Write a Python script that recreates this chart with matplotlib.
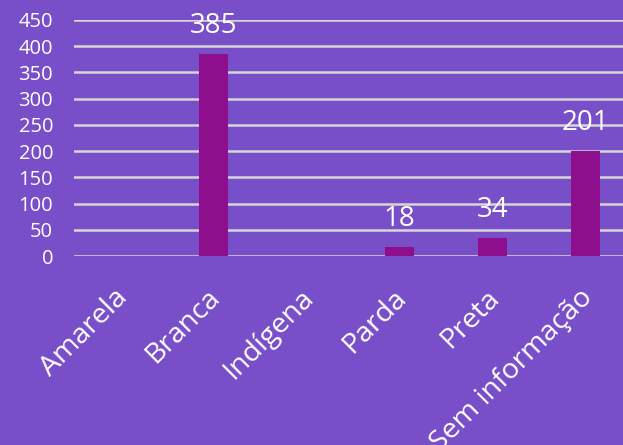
import numpy as np
import matplotlib
matplotlib.use('Agg')
import matplotlib.pyplot as plt
import matplotlib.transforms as mtransforms

# data
categories = ['Amarela', 'Branca', 'Indígena', 'Parda', 'Preta', 'Sem informação']
values = [0, 385, 0, 18, 34, 201]
labels = ['', '385', '', '18', '34', '201']
yticks = [0, 50, 100, 150, 200, 250, 300, 350, 400, 450]

bg = '#784fc8'
bar_color = '#8e0f8c'

plt.rcParams['font.family'] = ['Open Sans', 'DejaVu Sans']

fig = plt.figure(figsize=(6.23, 4.45), dpi=100, facecolor=bg)
ax = fig.add_axes([74/623, 189/445, 558/623, 236/445])
ax.set_facecolor(bg)

x = np.arange(len(categories))
bars = ax.bar(x, values, width=0.31, color=bar_color, zorder=3)

for xi, v, lab in zip(x, values, labels):
    if lab:
        ax.annotate(lab, (xi, v), xytext=(0, 10), textcoords='offset points',
                    ha='center', va='bottom', color='white', fontsize=20)

ax.set_xlim(-0.5, 5.5)
ax.set_ylim(0, 450)
ax.set_yticks(yticks)
ax.set_yticklabels([str(t) for t in yticks], color='white', fontsize=14.5)
ax.set_xticks(x)
ax.set_xticklabels(categories, rotation=45, ha='right', va='top', rotation_mode='anchor',
                   color='white', fontsize=20.5)
ax.tick_params(axis='both', length=0)
ax.tick_params(axis='y', pad=15)
ax.tick_params(axis='x', pad=20)

off = mtransforms.ScaledTranslation(-7 / 100, 0, fig.dpi_scale_trans)
for lab in ax.get_xticklabels():
    lab.set_transform(lab.get_transform() + off)

ax.grid(axis='y', color='#d6d6d6', linewidth=1.8, zorder=1)
for s in ax.spines.values():
    s.set_visible(False)

fig.savefig('out.png', dpi=100, facecolor=bg)
